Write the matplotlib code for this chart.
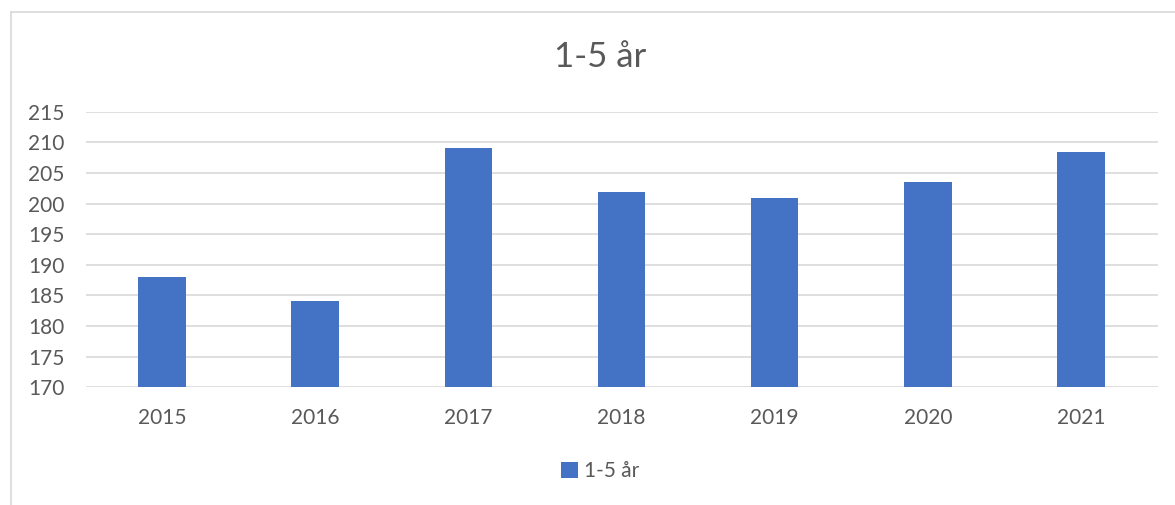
import matplotlib
matplotlib.use("Agg")
import matplotlib.pyplot as plt
from matplotlib.lines import Line2D
from matplotlib.patches import Patch

years = ["2015", "2016", "2017", "2018", "2019", "2020", "2021"]
values = [188, 184.1, 209.1, 201.9, 200.9, 203.6, 208.4]
series_name = "1-5 år"
yticks = [170, 175, 180, 185, 190, 195, 200, 205, 210, 215]

plt.rcParams['font.family'] = ['Lato', 'DejaVu Sans']

W, H = 1175, 505
fig = plt.figure(figsize=(W / 100, H / 100), dpi=100)
fig.patch.set_facecolor("white")

# outer chart frame
fig.add_artist(Line2D([11.5 / W, 11.5 / W], [0, 1 - 12 / H], color="#d9d9d9", lw=1.2))
fig.add_artist(Line2D([11.5 / W, 1], [1 - 12 / H, 1 - 12 / H], color="#d9d9d9", lw=1.2))

ax = fig.add_axes([85.5 / W, 1 - 387.3 / H, (1157.5 - 85.5) / W, (387.3 - 111.7) / H])
x = list(range(len(years)))
ax.bar(x, values, width=0.31, color="#4472C4", zorder=3)
ax.set_ylim(170, 215)
ax.set_xlim(-0.5, len(years) - 0.5)
ax.set_yticks(yticks)
ax.set_xticks(x)
ax.set_xticklabels(years)
ax.grid(axis="y", color="#d9d9d9", lw=1.2, zorder=0)
for s in ax.spines.values():
    s.set_visible(False)
ax.tick_params(axis="both", length=0, colors="#595959", labelsize=15)
ax.tick_params(axis="x", pad=15)
ax.tick_params(axis="y", pad=15)

fig.text(600 / W, 1 - 57 / H, series_name, ha="center", va="center",
         fontsize=25, color="#595959")

leg = fig.legend(handles=[Patch(facecolor="#4472C4", label=series_name)],
                 loc="center", bbox_to_anchor=(600 / W, 1 - 471 / H),
                 frameon=False, fontsize=15, handlelength=0.8, handleheight=0.8,
                 handletextpad=0.3, labelcolor="#595959")

fig.savefig("out.png", dpi=100, facecolor="white")
